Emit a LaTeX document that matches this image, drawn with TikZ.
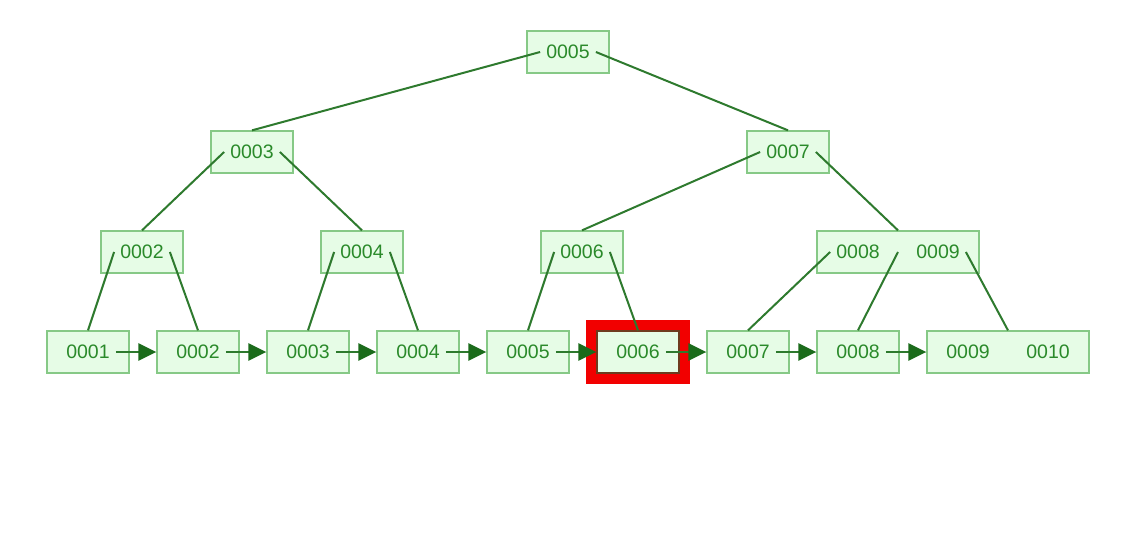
\documentclass[tikz,border=0pt]{standalone}
\usepackage{fontspec}
\newfontfamily\keyfont{Liberation Sans}
\usetikzlibrary{arrows.meta,calc}
\definecolor{boxfill}{HTML}{E6FCE6}
\definecolor{boxdraw}{HTML}{86C986}
\definecolor{keytext}{HTML}{2A8A2A}
\definecolor{linkcol}{HTML}{2E7A2E}
\definecolor{arrowcol}{HTML}{1B6B1B}
\definecolor{hired}{HTML}{F20000}
\definecolor{hiborder}{HTML}{6E3B1E}
\begin{document}
\begin{tikzpicture}[x=1pt,y=-1pt,
  treebox/.style={draw=boxdraw,fill=boxfill,line width=1.3pt,minimum width=82pt,minimum height=42pt,inner sep=0pt},
  widebox/.style={treebox,minimum width=162pt},
  keynode/.style={text=keytext,font=\keyfont\fontsize{19.5}{21}\selectfont,inner xsep=6pt,inner ysep=0pt},
  link/.style={draw=linkcol,line width=2pt},
  nextptr/.style={draw=linkcol,line width=2.4pt,-{Triangle[length=18pt,width=17pt,color=arrowcol]}},
  highlight/.style={draw=hired,line width=10pt}]
\useasboundingbox (0,0) rectangle (1128,546);
% boxes
\node[treebox] (r0005) at (568,52) {};
\node[treebox] (i0003) at (252,152) {};
\node[treebox] (i0007) at (788,152) {};
\node[treebox] (i0002) at (142,252) {};
\node[treebox] (i0004) at (362,252) {};
\node[treebox] (i0006) at (582,252) {};
\node[widebox] (i0809) at (898,252) {};
\node[treebox] (l0001) at (88,352) {};
\node[treebox] (l0002) at (198,352) {};
\node[treebox] (l0003) at (308,352) {};
\node[treebox] (l0004) at (418,352) {};
\node[treebox] (l0005) at (528,352) {};
\node[treebox,draw=hiborder] (l0006) at (638,352) {};
\node[treebox] (l0007) at (748,352) {};
\node[treebox] (l0008) at (858,352) {};
\node[widebox] (l0910) at (1008,352) {};
% highlight
\draw[highlight] ($(l0006.south west)+(-5,5)$) rectangle ($(l0006.north east)+(5,-5)$);
% keys
\node[keynode] (k0005) at (r0005.center) {0005};
\node[keynode] (k0003) at (i0003.center) {0003};
\node[keynode] (k0007) at (i0007.center) {0007};
\node[keynode] (k0002) at (i0002.center) {0002};
\node[keynode] (k0004) at (i0004.center) {0004};
\node[keynode] (k0006) at (i0006.center) {0006};
\node[keynode] (k0008) at ($(i0809.center)+(-40,0)$) {0008};
\node[keynode] (k0009) at ($(i0809.center)+(40,0)$) {0009};
\node[keynode] (m0001) at (l0001.center) {0001};
\node[keynode] (m0002) at (l0002.center) {0002};
\node[keynode] (m0003) at (l0003.center) {0003};
\node[keynode] (m0004) at (l0004.center) {0004};
\node[keynode] (m0005) at (l0005.center) {0005};
\node[keynode] (m0006) at (l0006.center) {0006};
\node[keynode] (m0007) at (l0007.center) {0007};
\node[keynode] (m0008) at (l0008.center) {0008};
\node[keynode] (m0009) at ($(l0910.center)+(-40,0)$) {0009};
\node[keynode] (m0010) at ($(l0910.center)+(40,0)$) {0010};
% tree links
\draw[link] (k0005.west) -- (i0003.north);
\draw[link] (k0005.east) -- (i0007.north);
\draw[link] (k0003.west) -- (i0002.north);
\draw[link] (k0003.east) -- (i0004.north);
\draw[link] (k0007.west) -- (i0006.north);
\draw[link] (k0007.east) -- (i0809.north);
\draw[link] (k0002.west) -- (l0001.north);
\draw[link] (k0002.east) -- (l0002.north);
\draw[link] (k0004.west) -- (l0003.north);
\draw[link] (k0004.east) -- (l0004.north);
\draw[link] (k0006.west) -- (l0005.north);
\draw[link] (k0006.east) -- (l0006.north);
\draw[link] (k0008.west) -- (l0007.north);
\draw[link] (i0809.center) -- (l0008.north);
\draw[link] (k0009.east) -- (l0910.north);
% leaf chain
\draw[nextptr] (m0001.east) -- (l0002.west);
\draw[nextptr] (m0002.east) -- (l0003.west);
\draw[nextptr] (m0003.east) -- (l0004.west);
\draw[nextptr] (m0004.east) -- (l0005.west);
\draw[nextptr] (m0005.east) -- (l0006.west);
\draw[nextptr] (m0006.east) -- (l0007.west);
\draw[nextptr] (m0007.east) -- (l0008.west);
\draw[nextptr] (m0008.east) -- (l0910.west);
\end{tikzpicture}
\end{document}
